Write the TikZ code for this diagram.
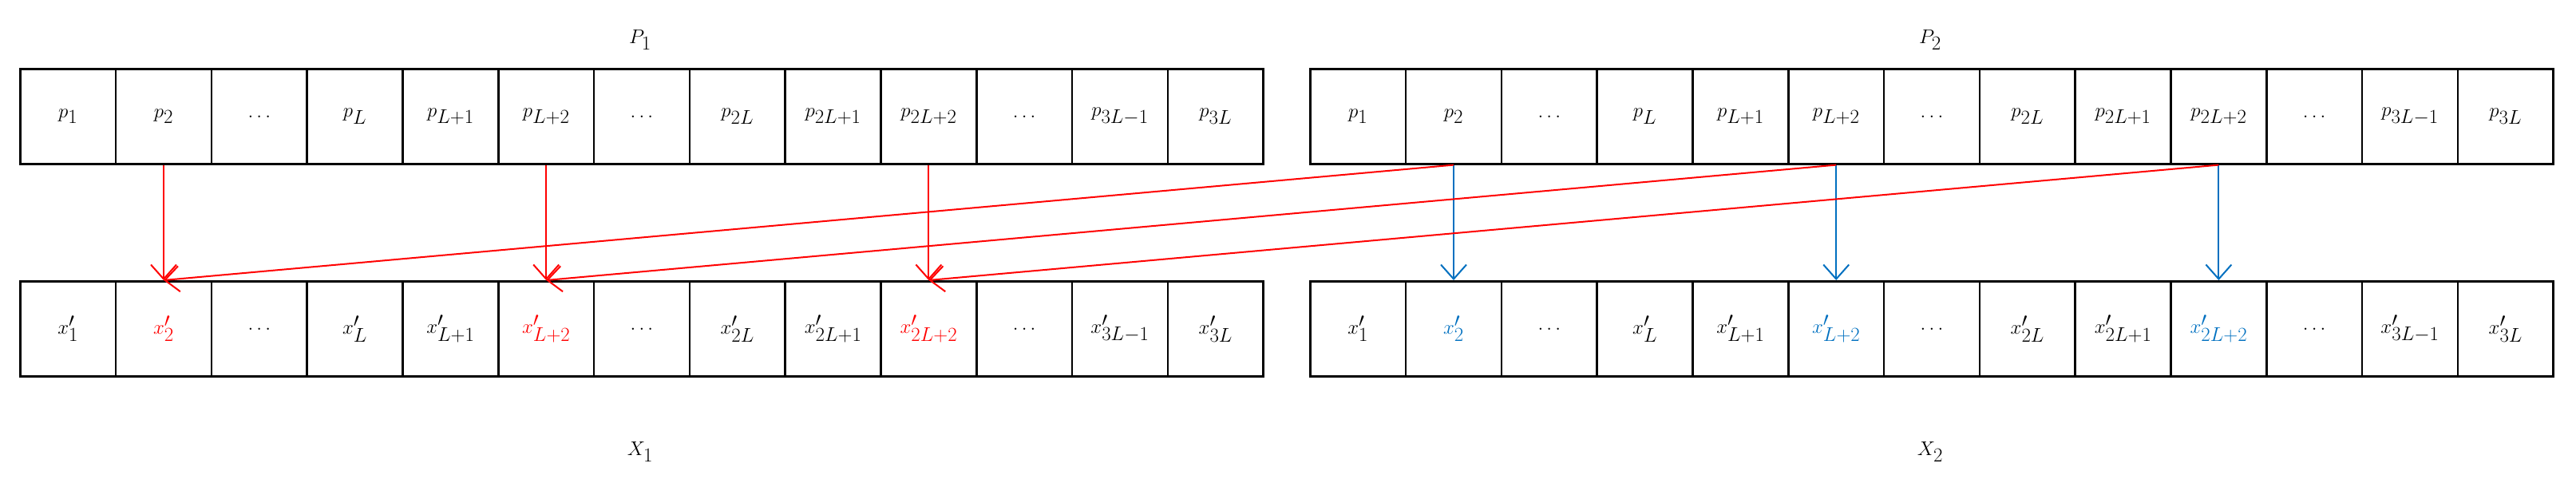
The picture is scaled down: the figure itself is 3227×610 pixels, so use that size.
\documentclass[tikz,border=0pt]{standalone}
\usetikzlibrary{arrows.meta}
\definecolor{myred}{RGB}{255,0,0}
\definecolor{myblue}{RGB}{0,112,192}
\begin{document}
\begin{tikzpicture}[x=1pt,y=-1pt,
  cell/.style={draw=black,line width=2.6pt,minimum width=119.8pt,minimum height=119pt,inner sep=0pt,anchor=north west,font=\fontsize{46}{50}\selectfont},
  lab/.style={font=\fontsize{46}{50}\selectfont},
  rarr/.style={draw=myred,line width=2pt,-{Straight Barb[length=18pt,width=32pt,line width=2pt]}},
  barr/.style={draw=myblue,line width=2pt,-{Straight Barb[length=18pt,width=32pt,line width=2pt]}}]
\useasboundingbox (0,0) rectangle (3227,610);
\foreach \b/\xs/\c in {1/24/myred,2/1640/myblue}{
  \foreach \i/\s/\h in {0/1/black,1/2/\c,2/-/black,3/L/black,4/L+1/black,5/L+2/\c,6/-/black,7/2L/black,8/2L+1/black,9/2L+2/\c,10/-/black,11/3L-1/black,12/3L/black}{
    \pgfmathsetmacro{\xx}{\xs+119.8*\i}
    \if-\s
      \node[cell] (P\b-\i) at (\xx,85) {$\dots$};
      \node[cell] (X\b-\i) at (\xx,351) {$\dots$};
    \else
      \node[cell] (P\b-\i) at (\xx,85) {$p_{\s}$};
      \node[cell,text=\h] (X\b-\i) at (\xx,351) {$x'_{\s}$};
    \fi
  }
}
\node[lab] (lP1) at (802,50) {$P_{1}$};
\node[lab] (lP2) at (2418,50) {$P_{2}$};
\node[lab] (lX1) at (802,566) {$X_{1}$};
\node[lab] (lX2) at (2418,566) {$X_{2}$};
\foreach \i in {1,5,9}{
  \draw[rarr] (P1-\i.south) -- (X1-\i.north);
  \draw[barr] (P2-\i.south) -- (X2-\i.north);
  \draw[rarr] (P2-\i.south) -- (X1-\i.north);
}
\end{tikzpicture}
\end{document}
